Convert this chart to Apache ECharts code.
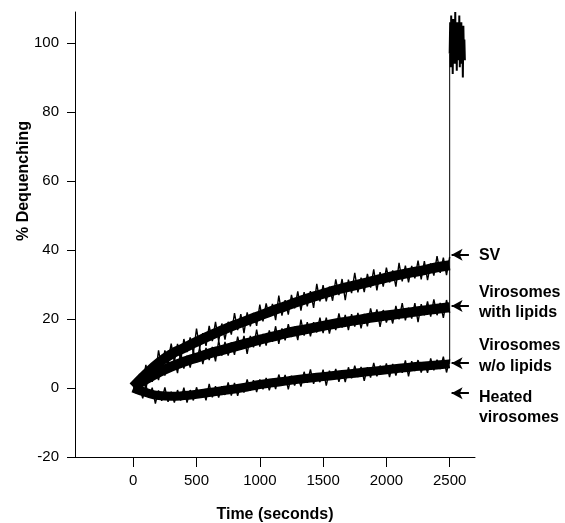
<!DOCTYPE html>
<html>
<head>
<meta charset="utf-8">
<script src="https://cdn.jsdelivr.net/npm/echarts@6/dist/echarts.min.js"></script>
<style>html,body{margin:0;padding:0;background:#fff;}#chart{width:565px;height:523px;}</style>
</head>
<body>
<div id="chart"></div>
<script>
// ---- data ----
// raw noisy traces, sampled every 25 s
const timeSec = [0,25,50,75,100,125,150,175,200,225,250,275,300,325,350,375,400,425,450,475,500,525,550,575,600,625,650,675,700,725,750,775,800,825,850,875,900,925,950,975,1000,1025,1050,1075,1100,1125,1150,1175,1200,1225,1250,1275,1300,1325,1350,1375,1400,1425,1450,1475,1500,1525,1550,1575,1600,1625,1650,1675,1700,1725,1750,1775,1800,1825,1850,1875,1900,1925,1950,1975,2000,2025,2050,2075,2100,2125,2150,2175,2200,2225,2250,2275,2300,2325,2350,2375,2400,2425,2450,2475,2500];

const svValues = [1.0,-0.4,4.1,1.4,6.7,1.6,7.0,3.9,10.9,5.9,
  10.9,7.9,12.9,7.6,12.8,8.0,14.2,10.4,14.7,10.1,
  17.2,11.6,15.9,12.2,18.0,13.6,19.2,13.6,18.7,14.0,
  19.2,15.5,21.7,16.8,21.4,15.9,21.9,17.9,21.8,18.0,
  24.2,19.3,24.5,20.6,24.4,19.7,26.8,21.0,25.5,21.3,
  27.0,23.1,28.0,22.4,27.8,23.7,28.1,23.2,30.2,25.1,
  29.8,25.1,29.4,25.3,31.5,26.9,31.6,25.5,31.4,27.5,
  33.4,27.7,32.0,27.8,33.1,29.1,34.4,28.3,33.6,29.4,
  34.9,30.6,34.1,29.4,36.3,30.9,35.5,30.6,35.4,31.8,
  36.9,31.5,36.8,31.3,36.1,32.6,38.2,33.4,37.8,32.7,38.0];

const withLipidsValues = [-0.9,2.4,0.0,4.0,-0.4,5.0,1.8,5.3,2.3,7.6,
  3.6,8.2,4.9,8.3,4.3,10.4,5.6,9.4,5.9,10.7,
  7.4,11.7,6.9,11.6,8.1,11.9,7.7,13.7,9.4,13.4,
  9.4,13.2,9.6,14.9,11.1,15.1,9.9,15.1,11.8,16.9,
  12.0,15.7,12.3,16.7,13.4,17.9,12.8,17.3,13.8,18.5,
  14.8,17.8,13.9,19.8,15.2,19.1,15.0,19.1,16.1,20.4,
  15.9,20.4,15.8,19.8,16.8,21.6,17.5,21.2,16.8,21.4,
  17.8,21.8,17.3,21.5,17.9,23.1,19.3,22.8,17.7,22.6,
  19.0,22.2,18.7,23.8,19.9,24.6,19.6,23.3,20.1,24.6,
  19.1,24.3,21.1,25.1,20.7,25.7,21.1,24.7,20.3,25.5,21.8];

const withoutLipidsValues = [1.0,-1.6,0.4,-3.0,0.9,-2.7,0.1,-4.5,-0.7,-3.7,
  0.2,-4.0,-1.1,-4.2,-0.6,-3.6,0.1,-4.2,-0.6,-3.6,
  0.2,-2.8,-0.4,-3.6,1.2,-2.7,0.5,-2.8,0.5,-2.0,
  1.6,-2.2,1.5,-2.3,1.1,-1.3,2.5,-0.8,2.3,-1.2,
  2.5,-0.4,2.9,-0.7,2.6,-0.3,3.9,0.9,3.8,-0.4,
  3.6,0.7,3.4,0.4,4.7,1.5,5.4,1.2,4.3,1.7,
  5.3,0.7,5.0,2.5,5.5,1.8,5.2,1.7,6.0,2.8,
  6.5,3.2,6.1,2.1,6.0,3.0,7.3,3.4,6.5,4.1,
  7.1,3.2,7.0,3.6,6.8,4.4,8.0,3.4,7.8,4.9,
  8.1,4.5,7.5,4.4,8.6,5.1,8.2,5.5,9.1,4.5,8.3];

// dense core of each trace, read every 100 s
const trendTimes = [0,100,200,300,400,500,600,700,800,900,1000,1100,1200,1300,1400,1500,1600,1700,1800,1900,2000,2100,2200,2300,2400,2500];
const svTrend = [0.3,4.0,7.3,9.8,11.6,13.4,15.1,16.7,18.2,19.6,21.0,22.4,23.7,25.0,26.2,27.3,28.4,29.3,30.2,31.1,32.0,32.8,33.5,34.2,35.0,35.6];
const withLipidsTrend = [0.3,2.5,4.5,6.2,7.6,8.8,10.0,11.0,12.0,13.0,14.0,14.9,15.8,16.6,17.3,18.0,18.7,19.3,19.9,20.5,21.0,21.5,22.0,22.5,23.0,23.4];
const withoutLipidsTrend = [0.0,-1.3,-2.2,-2.4,-2.2,-1.8,-1.3,-0.8,-0.3,0.3,1.0,1.5,2.0,2.5,2.9,3.3,3.7,4.1,4.5,4.9,5.3,5.7,6.1,6.4,6.7,7.0];

// detergent-induced total dequenching at the end of the run
const detergentTimes = [2500,2500,2504,2508,2512,2516,2520,2524,2528,2532,2536,2540,2544,2548,2552,2556,2560,2564,2568,2572,2576,2580,2584,2588,2592,2596,2600,2604,2608,2612,2616,2620];
const detergentValues = [7.0,97,106,93,108,95,104,91,107,98,103,94,109,96,105,92,106,97,102,95,108,93,104,99,106,94,103,90,105,97,101,95];

const xTicks = [0,500,1000,1500,2000,2500];
const yTicks = [-20,0,20,40,60,80,100];

// arrow annotations: label lines and the y value each arrow points at
const arrowLabels = [['SV'], ['Virosomes','with lipids'], ['Virosomes','w/o lipids'], ['Heated','virosomes']];
const arrowValues = [38.6, 23.8, 7.2, -1.5];
const arrowFrom = 2515, arrowTo = 2652;

// ---- layout of annotation text (pixel offsets of each line from its arrow) ----
const labelOffsets = [[1], [-13, 7], [-18, 3], [4, 24]];

// ---- chart ----
const FONT = '"Liberation Sans", Arial, sans-serif';
const INK = '#000';
const pair = (xs, ys) => xs.map((x, i) => [x, ys[i]]);

const chart = echarts.init(document.getElementById('chart'), null, {renderer: 'canvas'});

function trace(name, data, w, smooth) {
  return {name, type: 'line', data, showSymbol: false, symbol: 'none', smooth: !!smooth,
    lineStyle: {color: INK, width: w, cap: 'butt'},
    itemStyle: {color: INK}, silent: true, animation: false};
}

const arrowSeries = {
  type: 'line', data: [], silent: true, animation: false,
  markLine: {
    silent: true, animation: false,
    symbol: ['arrow', 'none'], symbolSize: [9, 11],
    lineStyle: {color: INK, width: 2, type: 'solid'},
    label: {show: false},
    data: arrowValues.map(v => [{coord: [arrowFrom, v]}, {coord: [arrowTo, v]}])
  }
};

const graphics = [{
  type: 'text', x: 24, y: 181, rotation: Math.PI / 2,
  style: {text: '% Dequenching', font: 'bold 16px ' + FONT, fill: INK, align: 'center', verticalAlign: 'middle'}
}];

const plainNum = v => String(v);

const option = {
  animation: false,
  backgroundColor: '#fff',
  grid: {left: 75, right: 90, top: 12, bottom: 66, containLabel: false, outerBoundsMode: 'none'},
  xAxis: {
    type: 'value', min: -460, max: 2700,
    name: 'Time (seconds)', nameLocation: 'middle', nameGap: 50,
    nameTextStyle: {fontFamily: FONT, fontWeight: 'bold', fontSize: 16, color: INK},
    axisLine: {show: true, onZero: false, lineStyle: {color: INK, width: 1}},
    axisTick: {show: true, length: 10, customValues: xTicks, lineStyle: {color: INK}},
    axisLabel: {customValues: xTicks, formatter: plainNum, margin: 16, fontFamily: FONT, fontSize: 15, color: INK},
    splitLine: {show: false}
  },
  yAxis: {
    type: 'value', min: -20, max: 109,
    axisLine: {show: true, onZero: false, lineStyle: {color: INK, width: 1}},
    axisTick: {show: true, length: 8, customValues: yTicks, lineStyle: {color: INK}},
    axisLabel: {customValues: yTicks, formatter: plainNum, margin: 16, fontFamily: FONT, fontSize: 15, color: INK},
    splitLine: {show: false}
  },
  graphic: graphics,
  series: [
    trace('SV core', pair(trendTimes, svTrend), 10, true),
    trace('Virosomes with lipids core', pair(trendTimes, withLipidsTrend), 10, true),
    trace('Virosomes w/o lipids core', pair(trendTimes, withoutLipidsTrend), 9, true),
    trace('SV', pair(timeSec, svValues), 1.4),
    trace('Virosomes with lipids', pair(timeSec, withLipidsValues), 1.4),
    trace('Virosomes w/o lipids', pair(timeSec, withoutLipidsValues), 1.4),
    trace('Detergent jump', pair(detergentTimes.slice(0, 2), detergentValues.slice(0, 2)), 1),
    trace('Detergent', pair(detergentTimes.slice(1), detergentValues.slice(1)), 2),
    arrowSeries
  ]
};
chart.setOption(option);

// text labels beside the arrows, anchored to the arrow positions from the axis scale
const textEls = [];
arrowLabels.forEach((lines, k) => {
  const p = chart.convertToPixel({gridIndex: 0}, [arrowTo, arrowValues[k]]);
  lines.forEach((t, j) => {
    textEls.push({type: 'text', x: p[0] + 10, y: p[1] + labelOffsets[k][j],
      style: {text: t, font: 'bold 16px ' + FONT, fill: INK, align: 'left', verticalAlign: 'middle'}});
  });
});
chart.setOption({graphic: graphics.concat(textEls)});
</script>
</body>
</html>
